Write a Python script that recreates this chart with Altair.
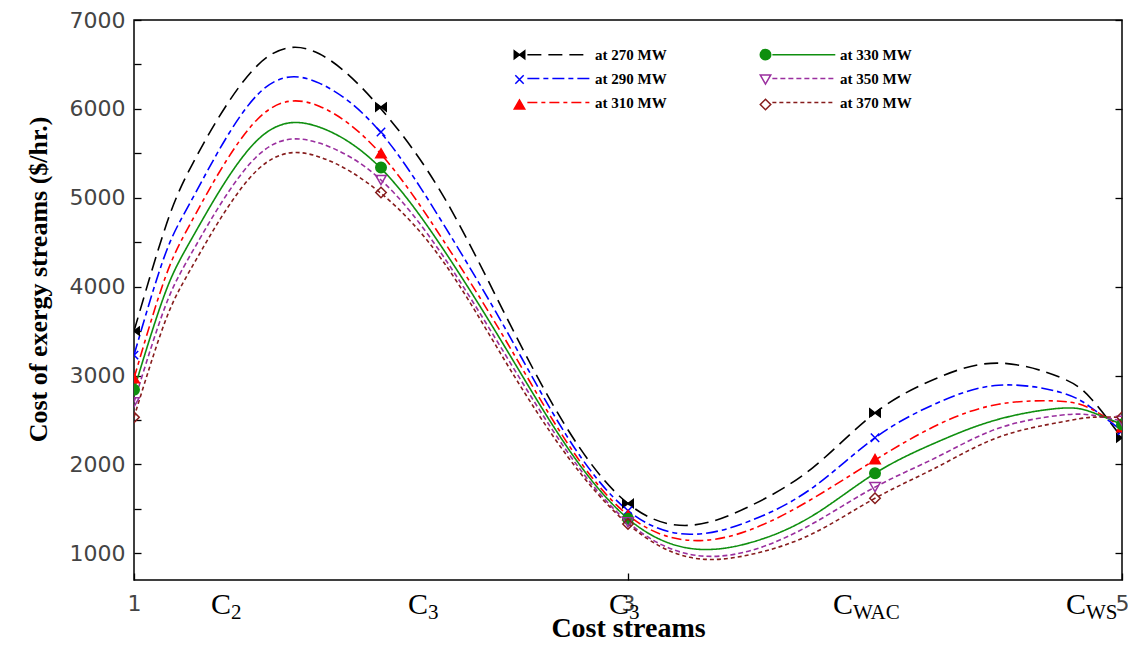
import altair as alt
import pandas as pd

# ---------------- data ----------------
series = ["at 270 MW", "at 290 MW", "at 310 MW", "at 330 MW", "at 350 MW", "at 370 MW"]

# smooth curves
x_line = [1, 1.125, 1.25, 1.5, 1.75, 2, 2.25, 2.5, 2.75, 3, 3.25, 3.5, 3.75, 4, 4.25, 4.5, 4.75, 4.875, 5]
line_270 = [3500, 4650, 5450, 6490, 6620, 6000, 5030, 3700, 2420, 1560, 1315, 1540, 1968, 2580, 2970, 3140, 2980, 2740, 2300]
line_290 = [3230, 4354, 5060, 6160, 6290, 5730, 4715, 3544, 2330, 1480, 1214, 1371, 1743, 2300, 2689, 2891, 2812, 2640, 2380]
line_310 = [2970, 4091, 4820, 5884, 6030, 5490, 4530, 3420, 2260, 1430, 1146, 1270, 1620, 2050, 2441, 2677, 2711, 2625, 2420]
line_330 = [2840, 3921, 4620, 5650, 5795, 5330, 4430, 3330, 2210, 1390, 1056, 1124, 1428, 1900, 2250, 2508, 2632, 2590, 2450]
line_350 = [2700, 3767, 4460, 5472, 5615, 5200, 4350, 3250, 2160, 1350, 989, 1034, 1338, 1745, 2081, 2407, 2553, 2555, 2490]
line_370 = [2530, 3601, 4296, 5314, 5460, 5050, 4290, 3175, 2110, 1330, 955, 989, 1225, 1620, 1968, 2306, 2475, 2530, 2530]

# markers
x_pts = [1, 2, 3, 4, 5]
pts_270 = [3500, 6020, 1560, 2580, 2300]
pts_290 = [3230, 5740, 1480, 2300, 2380]
pts_310 = [2970, 5500, 1430, 2060, 2420]
pts_330 = [2840, 5340, 1390, 1900, 2450]
pts_350 = [2700, 5200, 1350, 1745, 2490]
pts_370 = [2530, 5060, 1330, 1620, 2530]

# category labels under the x axis
cat_base = ["C", "C", "C", "C", "C"]
cat_sub = ["2", "3", "3", "WAC", "WS"]
cat_x = [1.312, 2.109, 2.923, 3.830, 4.773]

x_tick_values = [1, 3, 5]
y_label_values = [1000, 2000, 3000, 4000, 5000, 6000, 7000]
y_minor_values = [1000, 1500, 2000, 2500, 3000, 3500, 4000, 4500, 5000, 5500, 6000, 6500, 7000]

# ---------------- styles ----------------
line_colors = ["#000000", "#0000ff", "#ff0000", "#0f8f0f", "#9a2f9f", "#861c1c"]
marker_fills = ["#000000", "transparent", "#ff0000", "#0f8f0f", "transparent", "transparent"]
bowtie = "M-1,-0.75L0,0L-1,0.75Z M1,-0.75L0,0L1,0.75Z"
xmark = "M-0.8,-0.8L0.8,0.8M-0.8,0.8L0.8,-0.8"
marker_shapes = [bowtie, xmark, "triangle-up", "circle", "triangle-down", "diamond"]
dashes = [[14, 7], [12, 4, 5, 4], [10, 4, 4, 4], [1, 0], [5, 3], [4, 3]]

line_vals = [line_270, line_290, line_310, line_330, line_350, line_370]
pts_vals = [pts_270, pts_290, pts_310, pts_330, pts_350, pts_370]

line_df = pd.DataFrame(
    [{"series": s, "x": x, "y": y} for s, ys in zip(series, line_vals) for x, y in zip(x_line, ys)]
)
pts_df = pd.DataFrame(
    [{"series_m": s, "x": x, "y": y} for s, ys in zip(series, pts_vals) for x, y in zip(x_pts, ys)]
)
cat_df = pd.DataFrame({"lx": cat_x, "base": cat_base, "sub": cat_sub})

W, H = 988, 560
xscale = alt.Scale(domain=[1, 5], nice=False, zero=False)
yscale = alt.Scale(domain=[700, 7000], nice=False, zero=False)

common_leg = dict(
    title=None, orient="none", legendX=378, legendY=27, columns=2,
    symbolSize=110, symbolStrokeWidth=1.5,
    labelFont="Liberation Serif", labelFontSize=15, labelFontWeight="bold", labelColor="#000000",
    labelOffset=68, columnPadding=90, rowPadding=8, padding=0, labelLimit=200,
)
legA = alt.Legend(symbolType="M1.5,0H13.5", **common_leg)
legB = alt.Legend(
    labelOpacity=0,
    symbolFillColor={"expr": "scale('fill', datum.value)"},
    symbolStrokeColor={"expr": "scale('stroke', datum.value)"},
    **common_leg,
)

x_axisA = alt.Axis(
    values=x_tick_values, format="d", ticks=False, tickSize=0, domain=False, grid=False,
    labelFont="DejaVu Sans", labelFontSize=22, labelColor="#444444", labelPadding=13, labelFlush=False,
    title="Cost streams", titleFont="Liberation Serif", titleFontSize=28, titleFontWeight="bold",
    titleColor="#000000", titleY=56, titleBaseline="alphabetic",
)
y_axisA = alt.Axis(
    values=y_label_values, format="d", ticks=False, tickSize=0, domain=False, grid=False,
    labelFont="DejaVu Sans", labelFontSize=22, labelColor="#444444", labelPadding=9,
    title="Cost of exergy streams ($/hr.)", titleFont="Liberation Serif", titleFontSize=26,
    titleFontWeight="bold", titleColor="#000000", titleX=-96, titleY=259,
    titleAlign="center", titleBaseline="middle",
)
x_axisB = alt.Axis(
    orient="top", offset=-H, values=x_tick_values, ticks=True, tickSize=7, tickColor="#000000",
    tickWidth=1.3, labels=False, domain=False, grid=False, title=None,
)
y_axisB = alt.Axis(
    orient="right", offset=-W, values=y_minor_values, ticks=True, tickSize=7, tickColor="#000000",
    tickWidth=1.3, labels=False, domain=False, grid=False, title=None,
)
y_axisC = alt.Axis(
    orient="left", offset=-W, values=y_label_values, ticks=True, tickSize=7, tickColor="#000000",
    tickWidth=1.3, labels=False, domain=False, grid=False, title=None,
)

lines = alt.Chart(line_df).mark_line(strokeWidth=1.6, interpolate="natural", clip=True).encode(
    x=alt.X("x:Q", scale=xscale, axis=x_axisA),
    y=alt.Y("y:Q", scale=yscale, axis=y_axisA),
    color=alt.Color("series:N", scale=alt.Scale(domain=series, range=line_colors), legend=legA),
    strokeDash=alt.StrokeDash("series:N", scale=alt.Scale(domain=series, range=dashes), legend=legA),
)

pts = alt.Chart(pts_df).mark_point(size=110, opacity=1, strokeWidth=1.5, clip=True).encode(
    x=alt.X("x:Q", scale=xscale, axis=x_axisB),
    y=alt.Y("y:Q", scale=yscale, axis=y_axisB),
    shape=alt.Shape("series_m:N", sort=series, scale=alt.Scale(range=marker_shapes), legend=legB),
    fill=alt.Fill("series_m:N", sort=series, scale=alt.Scale(range=marker_fills), legend=None),
    stroke=alt.Stroke("series_m:N", sort=series, scale=alt.Scale(range=line_colors), legend=None),
)

cbase = alt.Chart(cat_df).mark_text(
    font="Liberation Serif", fontSize=30, align="left", baseline="middle", dy=25, color="#000000"
).encode(
    x=alt.X("lx:Q", scale=xscale, axis=None),
    y=alt.YDatum(700, scale=yscale, axis=y_axisC),
    text="base:N",
)
csub = alt.Chart(cat_df).mark_text(
    font="Liberation Serif", fontSize=21, align="left", baseline="middle", dx=20, dy=33, color="#000000"
).encode(
    x=alt.X("lx:Q", scale=xscale, axis=None),
    y=alt.YDatum(700, scale=yscale, axis=None),
    text="sub:N",
)

chart = (
    alt.layer(lines, pts, cbase, csub)
    .resolve_axis(x="independent", y="independent")
    .properties(
        width=W, height=H,
        padding={"left": 126, "top": 12, "right": 6, "bottom": 57},
        autosize=alt.AutoSizeParams(type="none"),
        background="white",
    )
    .configure_view(stroke="#000000", strokeWidth=1.5)
)

chart.save("out.html", embed_options={"renderer": "svg", "actions": False})
